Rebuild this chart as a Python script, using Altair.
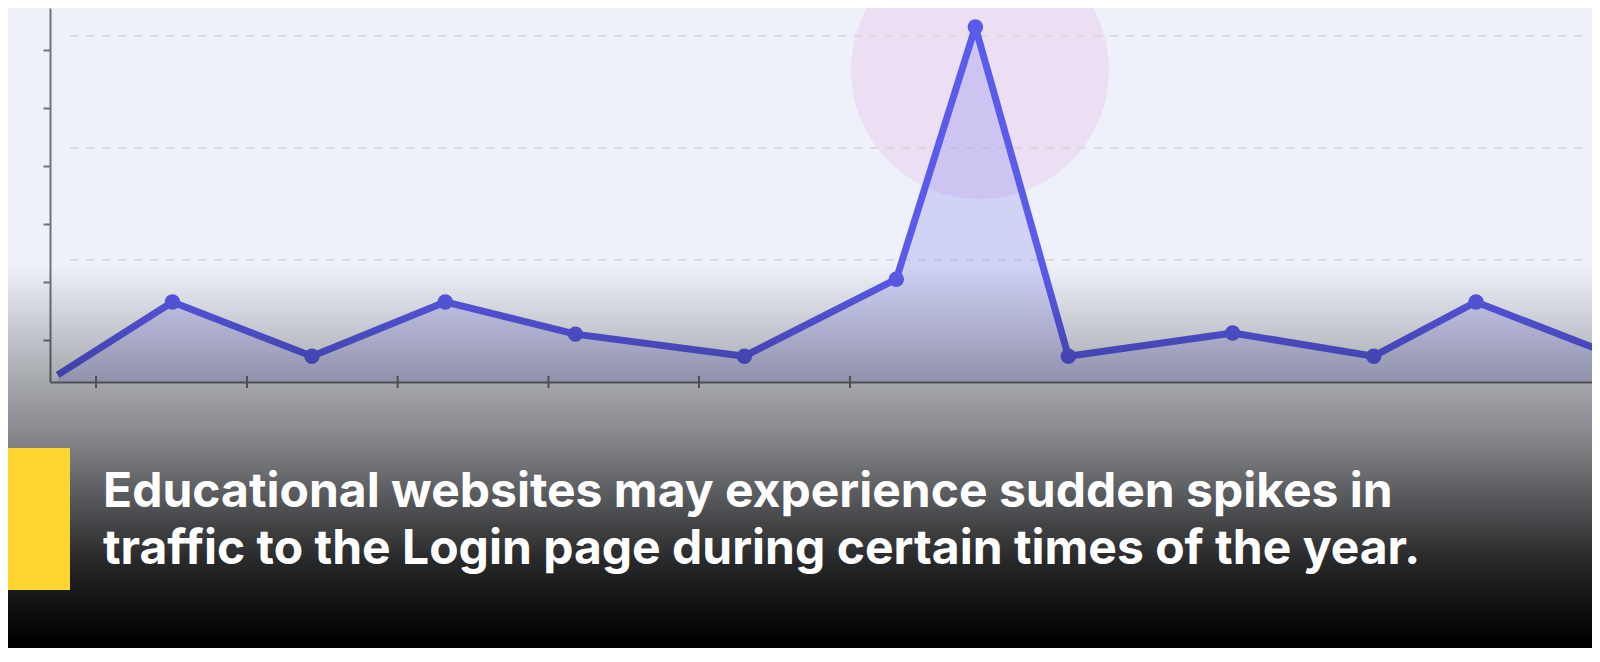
import altair as alt
import pandas as pd

# ---- data ----
day = [0.5, 7.9, 16.9, 25.5, 33.9, 44.8, 54.6, 59.7, 65.7, 76.3, 85.4, 92.0, 101.0]
visits = [1.9, 21.4, 6.9, 21.4, 12.8, 6.9, 27.5, 94.9, 6.9, 13.1, 6.9, 21.4, 6.9]
marked = [False, True, True, True, True, True, True, True, True, True, True, True, False]

x_ticks = [2.97, 12.71, 22.43, 32.16, 41.87, 51.61]
y_ticks = [11.2, 26.7, 42.2, 57.8, 73.3, 88.8]
grid_levels = [32.7, 62.6, 92.6]
grid_start = [1.3, 1.3, 1.3]
grid_end = [99.0, 99.0, 99.0]

spike_day = [60.0]
spike_visits = [83.4]

caption = [
    "Educational websites may experience sudden spikes in",
    "traffic to the Login page during certain times of the year.",
]

# ---- layout ----
W, H = 1542, 374
TOTAL_H = 640
LINE = "#5a5aeb"
AXIS = "#727277"

xs = alt.Scale(domain=[0, W / 15.5], nice=False, zero=False)
ys = alt.Scale(domain=[0, 100], nice=False, zero=False)
x_axis = alt.Axis(labels=False, ticks=False, grid=False, title=None,
                  domainColor=AXIS, domainWidth=2)
y_axis = alt.Axis(labels=False, values=y_ticks, tickSize=7, tickColor=AXIS,
                  tickWidth=2, grid=False, title=None, domainColor=AXIS,
                  domainWidth=2)

df = pd.DataFrame({"day": day, "visits": visits, "marked": marked})
grid_df = pd.DataFrame({"level": grid_levels, "start": grid_start, "end": grid_end})
tick_df = pd.DataFrame({"tick": x_ticks})
spike_df = pd.DataFrame({"day": spike_day, "visits": spike_visits})
one = pd.DataFrame({"k": [0]})

X = lambda f="day": alt.X(f"{f}:Q", scale=xs, axis=x_axis)
Y = lambda f="visits": alt.Y(f"{f}:Q", scale=ys, axis=y_axis)

halo = alt.Chart(spike_df).mark_circle(size=66600, color="#ecdff4", opacity=1, clip=True).encode(
    x=X(), y=Y())

grid = alt.Chart(grid_df).mark_rule(strokeDash=[8, 8], color="#d3d5df", strokeWidth=1.5).encode(
    x=X("start"), x2="end:Q", y=Y("level"))

area = alt.Chart(df).mark_area(color=LINE, opacity=0.2, clip=True).encode(x=X(), y=Y())

line = alt.Chart(df).mark_line(color=LINE, strokeWidth=7, strokeJoin="round", clip=True).encode(
    x=X(), y=Y())

points = alt.Chart(df).transform_filter("datum.marked").mark_circle(
    size=240, color=LINE, opacity=1, clip=True).encode(x=X(), y=Y())

xticks = alt.Chart(tick_df).mark_rule(color=AXIS, strokeWidth=2).encode(
    x=X("tick"), y=alt.value(H - 6), y2=alt.value(H + 6))

shade = alt.Chart(one).mark_rect(
    fill=alt.Gradient(
        gradient="linear", x1=0, x2=0, y1=0, y2=1,
        stops=[
            alt.GradientStop(color="rgba(0,0,0,0)", offset=0),
            alt.GradientStop(color="rgba(0,0,0,0.3)", offset=0.303),
            alt.GradientStop(color="rgba(0,0,0,0.45)", offset=0.457),
            alt.GradientStop(color="rgba(0,0,0,0.83)", offset=0.770),
            alt.GradientStop(color="rgba(0,0,0,1)", offset=0.979),
            alt.GradientStop(color="rgba(0,0,0,1)", offset=1),
        ],
    )
).encode(x=alt.value(-42), x2=alt.value(W), y=alt.value(257), y2=alt.value(TOTAL_H))

badge = alt.Chart(one).mark_rect(color="#ffd530").encode(
    x=alt.value(-42), x2=alt.value(20), y=alt.value(440), y2=alt.value(582))

text = alt.Chart(one).mark_text(
    font="Inter", fontSize=48, fontWeight="bold", color="white",
    align="left", baseline="alphabetic", lineHeight=57.5,
).encode(x=alt.value(53), y=alt.value(498.7), text=alt.value(caption))

chart = alt.layer(halo, grid, area, line, points, xticks, shade, badge, text).properties(
    width=W, height=H,
    autosize=alt.AutoSizeParams(type="none"),
    padding={"left": 42, "top": 0, "right": 0, "bottom": TOTAL_H - H},
).configure(background="#eef1f9").configure_view(stroke=None)

chart.save("out.html", embed_options={"renderer": "svg", "actions": False})
